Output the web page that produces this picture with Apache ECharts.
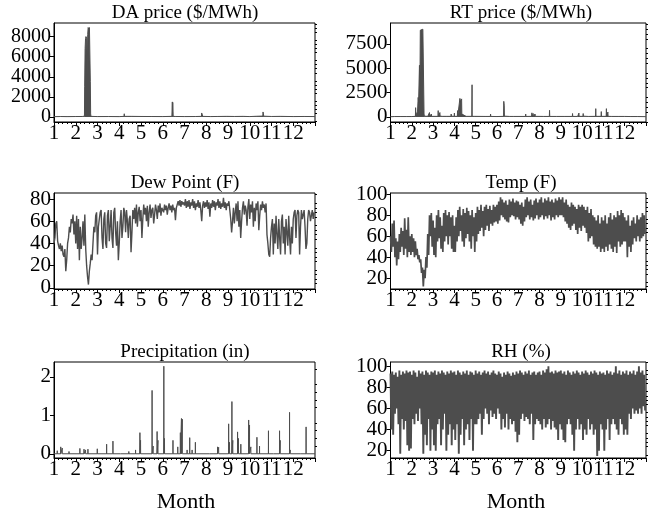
<!DOCTYPE html>
<html><head><meta charset="utf-8">
<script src="https://cdn.jsdelivr.net/npm/echarts@6/dist/echarts.min.js"></script>
<style>html,body{margin:0;padding:0;background:#fff}#c{width:649px;height:516px}</style>
</head><body><div id="c"></div>
<script>
// ---------- tick labels ----------
const monthLabels = ['1','2','3','4','5','6','7','8','9','10','11','12'];
const daTicks = [0, 2000, 4000, 6000, 8000];
const rtTicks = [0, 2500, 5000, 7500];
const dewTicks = [0, 20, 40, 60, 80];
const tempTicks = [20, 40, 60, 80, 100];
const precipTicks = [0, 1, 2];
const rhTicks = [20, 40, 60, 80, 100];

// ---------- prices: [month, $/MWh] ----------
const daPoints = [[1.00,30],[1.30,45],[1.60,35],[2.00,45],[2.30,50],[2.40,80],[2.41,3000],[2.43,6800],[2.45,7800],[2.47,8000],[2.49,7900],[2.51,7800],[2.53,4000],[2.55,8200],[2.57,8900],[2.59,8800],[2.61,8700],[2.63,8900],[2.65,8800],[2.67,3500],[2.685,300],[2.70,60],[3.00,40],[3.50,45],[4.00,35],[4.22,60],[4.23,320],[4.24,60],[4.40,60],[4.41,200],[4.42,60],[4.57,60],[4.58,180],[4.59,60],[5.00,50],[5.50,45],[6.00,40],[6.42,60],[6.44,1500],[6.45,400],[6.46,1450],[6.48,60],[6.60,50],[7.00,40],[7.50,45],[7.78,60],[7.79,400],[7.81,300],[7.83,250],[7.84,60],[8.20,40],[8.50,50],[8.94,60],[8.95,220],[8.96,60],[9.30,50],[9.70,60],[10.00,40],[10.30,70],[10.60,90],[10.61,500],[10.63,300],[10.64,80],[11.00,50],[11.41,60],[11.42,180],[11.43,60],[12.00,40],[12.50,50],[13.00,40]];
const rtPoints = [[1.00,20],[1.19,40],[1.20,150],[1.21,40],[1.49,40],[1.50,160],[1.51,40],[1.74,40],[1.75,120],[1.76,40],[2.00,40],[2.17,60],[2.18,950],[2.19,100],[2.24,200],[2.27,600],[2.30,2000],[2.32,1500],[2.36,5300],[2.38,2200],[2.40,8900],[2.43,9100],[2.46,9000],[2.49,9100],[2.52,9000],[2.56,8900],[2.575,300],[2.59,80],[2.75,60],[2.82,60],[2.83,450],[2.84,60],[2.91,60],[2.92,300],[2.93,60],[3.23,60],[3.24,650],[3.25,60],[3.31,60],[3.32,450],[3.33,80],[3.44,60],[3.45,250],[3.46,60],[3.64,60],[3.65,250],[3.66,60],[3.84,60],[3.85,300],[3.86,80],[3.99,60],[4.00,400],[4.01,60],[4.14,60],[4.15,650],[4.16,100],[4.25,100],[4.26,1900],[4.28,1600],[4.30,1800],[4.32,1700],[4.34,1850],[4.35,300],[4.36,100],[4.55,60],[4.82,60],[4.83,3300],[4.835,60],[4.94,60],[4.95,200],[4.96,50],[5.44,50],[5.45,200],[5.46,50],[5.69,50],[5.70,300],[5.71,50],[6.00,40],[6.31,60],[6.32,1600],[6.33,1400],[6.34,1200],[6.35,80],[6.60,50],[6.79,50],[6.80,250],[6.81,50],[7.34,50],[7.35,300],[7.36,50],[7.63,60],[7.64,420],[7.65,60],[7.69,60],[7.70,350],[7.71,60],[7.78,60],[7.79,300],[7.80,60],[8.19,50],[8.20,100],[8.21,50],[8.46,50],[8.47,680],[8.48,50],[8.79,50],[8.80,200],[8.81,40],[9.19,50],[9.20,250],[9.21,50],[9.54,50],[9.55,350],[9.56,50],[9.79,50],[9.80,250],[9.81,60],[9.84,60],[9.85,400],[9.86,60],[10.04,60],[10.05,350],[10.06,80],[10.29,50],[10.30,200],[10.31,50],[10.63,60],[10.64,850],[10.65,60],[10.89,60],[10.90,550],[10.91,60],[11.13,60],[11.14,850],[11.15,60],[11.20,60],[11.21,500],[11.22,60],[11.39,50],[11.40,250],[11.41,50],[11.69,50],[11.70,200],[11.71,50],[11.99,50],[12.00,200],[12.01,50],[12.29,40],[12.30,150],[12.31,40],[12.59,40],[12.60,100],[12.61,40],[13.00,30]];

// ---------- precipitation events: [month, inches] ----------
const precipEvents = [[1.15,0.08],[1.31,0.18],[1.38,0.15],[1.69,0.06],[2.19,0.14],[2.38,0.12],[2.45,0.10],[2.56,0.12],[2.99,0.13],[3.42,0.25],[3.71,0.33],[4.06,0.03],[4.44,0.06],[4.52,0.05],[4.75,0.10],[4.95,0.55],[4.98,0.35],[5.51,1.65],[5.56,0.20],[5.74,0.58],[5.78,0.35],[6.05,2.28],[6.08,0.40],[6.47,0.35],[6.69,0.18],[6.81,0.55],[6.86,0.92],[6.90,0.90],[7.12,0.10],[7.24,0.42],[7.35,0.10],[7.50,0.30],[8.16,0.02],[8.52,0.18],[8.57,0.17],[9.03,0.78],[9.07,0.30],[9.18,1.36],[9.22,0.35],[9.44,0.57],[9.48,0.40],[9.59,0.25],[9.95,0.88],[9.99,0.75],[10.05,0.18],[10.33,0.43],[10.45,0.20],[10.86,0.60],[11.09,0.05],[11.37,0.60],[11.40,0.35],[11.83,1.08],[11.86,0.10],[12.32,0.03],[12.59,0.70]];

// ---------- weather, 24 readings per month ----------
const dewPoint = [
 40,45,58,60,42,38,35,40,33,38,30,28,35,15,25,40,45,55,50,62,58,66,48,60,
 40,65,35,62,25,55,35,45,60,38,66,35,20,10,3,15,22,30,25,40,55,50,65,68,
 30,55,62,68,70,45,35,62,68,40,36,65,70,42,55,70,45,36,68,72,50,38,60,25,
 40,60,70,45,55,72,68,50,70,60,45,62,65,32,50,70,62,72,58,75,55,68,73,60,
 70,45,62,75,66,72,60,74,55,68,75,63,70,72,58,66,75,70,62,74,68,76,65,72,
 72,68,75,70,74,66,72,76,70,74,68,75,70,72,61,72,75,78,74,79,73,78,75,77,
 74,80,72,78,73,79,71,77,74,80,72,78,70,76,73,79,72,77,70,60,74,78,72,77,
 73,79,71,77,64,76,72,79,73,78,70,77,74,80,72,78,71,76,73,81,72,77,70,76,
 74,78,70,62,50,60,72,58,68,76,60,78,55,70,45,60,72,78,66,74,70,56,73,80,
 62,75,68,78,55,72,60,76,70,78,52,65,75,70,78,72,75,68,76,48,40,30,28,45,
 55,62,30,58,40,65,48,35,62,45,30,60,66,40,55,30,62,50,38,65,45,30,55,40,
 62,68,70,45,65,70,68,30,55,70,62,66,70,55,35,40,62,70,68,60,65,70,62,68];
const temp = [
 60,45,72,50,75,40,58,32,55,38,62,45,68,50,65,42,77,48,66,40,78,45,60,42,
 62,45,58,40,55,42,48,38,42,35,38,25,30,12,28,20,40,30,62,42,80,60,82,50,
 75,42,68,40,80,55,85,58,78,48,70,45,82,55,85,60,80,52,83,60,78,48,80,45,
 70,45,78,55,85,60,88,65,80,55,86,50,82,58,87,62,84,55,80,48,85,60,78,45,
 82,55,88,62,85,65,90,68,84,60,88,66,90,70,86,65,89,72,85,70,90,73,88,74,
 90,72,93,75,97,80,95,78,92,76,94,74,90,73,95,78,93,80,96,79,92,76,94,78,
 93,76,90,72,92,70,88,74,95,78,97,80,93,76,95,78,90,75,94,77,96,80,92,76,
 95,78,97,80,92,76,96,79,94,77,97,80,93,75,95,78,92,76,96,80,94,78,97,80,
 95,80,97,78,92,74,95,72,90,68,88,66,92,70,90,72,88,66,86,62,90,68,88,65,
 90,70,88,68,85,63,88,55,82,58,86,60,80,52,78,50,75,48,80,50,72,45,78,48,
 75,45,80,50,72,46,78,52,82,48,76,45,80,50,78,44,84,55,80,50,85,52,82,55,
 78,55,75,40,80,50,70,45,75,52,78,58,72,55,80,60,76,55,78,58,82,60,80,62];
const relHumidity = [
 93,40,95,35,92,55,94,60,90,45,96,17,92,50,95,40,93,48,96,25,94,20,95,22,
 92,50,96,45,94,55,90,48,96,60,93,45,95,17,92,35,96,25,94,50,92,20,95,40,
 94,25,96,20,92,45,95,50,93,25,96,40,94,55,92,20,95,35,93,45,96,25,94,40,
 95,30,92,45,96,17,94,35,92,50,95,25,93,40,96,45,92,30,95,50,94,20,92,45,
 96,45,93,50,95,55,92,35,94,50,96,60,93,55,95,45,92,58,94,52,96,55,93,50,
 92,60,95,55,93,40,90,50,94,42,92,55,95,40,93,50,91,45,94,48,92,38,95,28,
 93,35,96,50,94,55,92,48,95,52,93,50,96,45,92,55,94,30,95,45,92,50,94,48,
 95,45,92,40,96,50,94,42,97,45,100,50,94,40,95,48,93,42,96,40,94,30,95,45,
 96,40,93,30,95,28,92,45,96,50,94,45,92,35,95,20,93,40,96,50,94,40,92,45,
 95,30,93,40,96,35,94,50,92,40,95,45,93,35,96,40,94,15,92,20,95,45,93,40,
 94,20,92,40,96,50,93,30,95,45,92,50,94,45,100,40,93,35,96,50,92,45,95,35,
 93,40,96,35,92,55,95,50,93,60,96,55,92,58,95,55,100,60,94,55,96,62,92,58];

// ---------- build ----------
const FONT = '"Liberation Serif", "Times New Roman", serif';
const LINE = '#4d4d4d';
const TICKFONT = 21;
const yFont = [20, 21, 21, 21, 21, 21];
function grid(x, y, w, h) { return {left:x, top:y, width:w, height:h, show:true, borderColor:'#000', borderWidth:1, backgroundColor:'transparent'}; }
const grids = [grid(54,23,261,99), grid(390.5,23,262,99), grid(54,193,261,96), grid(390.5,193,262,96), grid(54,362,261,96), grid(390.5,362,262,96)];
const yRanges = [[-500,9350],[-520,9640],[-1,85.4],[9.6,101.2],[-0.11,2.39],[13,104]];
const yMajors = [daTicks, rtTicks, dewTicks, tempTicks, precipTicks, rhTicks];
function minorsOf(majors, range) {
  const step = (majors[1]-majors[0])/5, out = [];
  const k0 = Math.ceil(range[0]/step), k1 = Math.floor(range[1]/step);
  for (let k=k0;k<=k1;k++){ const v=+(k*step).toFixed(6); if (!majors.some(m=>Math.abs(m-v)<1e-9)) out.push(v); }
  return out;
}
const xAxes = [], yAxes = [];
for (let g=0; g<6; g++) {
  xAxes.push({gridIndex:g, type:'value', min:1, max:13, interval:1,
    axisLine:{show:true, onZero:false, lineStyle:{color:'#000', width:1}},
    axisTick:{show:true, length:4, lineStyle:{color:'#000'}},
    minorTick:{show:true, splitNumber:5, length:2, lineStyle:{color:'#000'}},
    splitLine:{show:false}, minorSplitLine:{show:false},
    axisLabel:{margin:1, color:'#000', fontFamily:FONT, fontSize:TICKFONT, hideOverlap:false, showMinLabel:true, showMaxLabel:true,
      formatter: v => (v>=1 && v<=12) ? monthLabels[v-1] : ''}});
  const r = yRanges[g];
  yAxes.push({gridIndex:g, type:'value', min:r[0], max:r[1],
    axisLine:{show:true, onZero:false, lineStyle:{color:'#000', width:1}},
    axisTick:{show:true, length:4, customValues:yMajors[g], lineStyle:{color:'#000'}},
    splitLine:{show:false},
    axisLabel:{margin:3, interval:0, color:'#000', fontFamily:FONT, fontSize:yFont[g], hideOverlap:false, showMinLabel:true, showMaxLabel:true,
      customValues:yMajors[g], formatter: v => String(v)}});
  yAxes.push({gridIndex:g, type:'value', min:r[0], max:r[1],
    axisLine:{show:false}, splitLine:{show:false}, axisLabel:{show:false},
    axisTick:{show:true, length:2, customValues:minorsOf(yMajors[g], r), lineStyle:{color:'#000'}}});
}
function dense(vals){ return vals.map((v,i)=>[1 + i*12/vals.length, v]); }
function spikes(ev){ const d=[[1,0]]; ev.forEach(([m,v])=>{ d.push([m-0.003,0],[m,v],[m+0.003,0]); }); d.push([13,0]); return d; }
const seriesData = [daPoints, rtPoints, dense(dewPoint), dense(temp), spikes(precipEvents), dense(relHumidity)];
const widths = [1, 1, 1.4, 1.7, 1, 1.9];
const series = seriesData.map((d,g)=>{
  const s = {type:'line', xAxisIndex:g, yAxisIndex:2*g, data:d, showSymbol:false, symbol:'none',
    lineStyle:{color:LINE, width:widths[g]}, animation:false, silent:true};
  if (g < 2) s.areaStyle = {color:LINE, opacity:1, origin:0};
  return s;
});

function txt(t, x, y, size){ return {type:'text', x:x, y:y, style:{text:t, font:size+'px '+FONT, fill:'#000', textAlign:'center', textVerticalAlign:'middle'}}; }
const graphic = [
  txt('DA price ($/MWh)', 185, 13, 19), txt('RT price ($/MWh)', 521, 13, 19),
  txt('Dew Point (F)', 185, 183, 19), txt('Temp (F)', 521, 183, 19),
  txt('Precipitation (in)', 185, 352, 19), txt('RH (%)', 521, 352, 19),
  txt('Month', 186, 502, 22), txt('Month', 516, 502, 22)
];
const chart = echarts.init(document.getElementById('c'), null, {renderer:'canvas'});
chart.setOption({animation:false, grid:grids, xAxis:xAxes, yAxis:yAxes, series:series, graphic:graphic});
</script></body></html>
